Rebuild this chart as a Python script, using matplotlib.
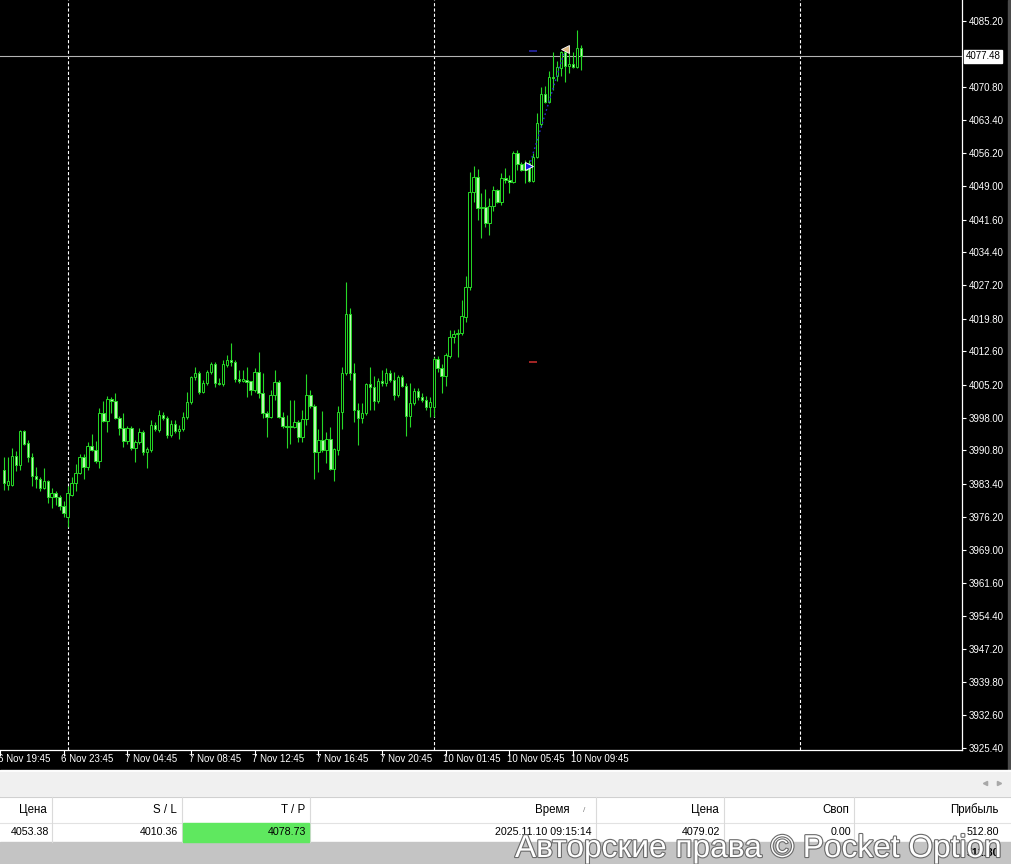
import matplotlib
matplotlib.use('Agg')
import matplotlib.pyplot as plt
from matplotlib.patches import Rectangle
from matplotlib.transforms import blended_transform_factory
import matplotlib.patheffects as pe
import numpy as np

plt.rcParams['font.family'] = ['Liberation Sans', 'DejaVu Sans']
plt.rcParams['lines.scale_dashes'] = False

# ---------------- data (XAUUSD M15) ----------------
first_index = -1  # index of first (partially visible) candle
opens = [
    3986.5, 3983.2, 3983.2, 3989.6, 3987.6, 3995.1, 3992.4, 3989.4, 3985.2, 3984.5,
    3982.5, 3984.1, 3980.6, 3981.4, 3980.6, 3978.6, 3976.2, 3981.0, 3983.6, 3985.8,
    3989.4, 3987.2, 3991.8, 3990.9, 3988.5, 3999.0, 3997.3, 4002.1, 4001.7, 3997.9,
    3995.7, 3992.9, 3995.7, 3991.3, 3992.7, 3994.9, 3990.5, 3990.9, 3996.4, 3995.3,
    3998.6, 3997.9, 3994.2, 3996.6, 3995.1, 3995.5, 3998.2, 4001.5, 4007.0, 4007.8,
    4003.7, 4005.6, 4008.1, 4009.8, 4005.6, 4005.4, 4009.6, 4010.7, 4010.3, 4006.5,
    4006.1, 4006.3, 4006.1, 4004.1, 4008.1, 4003.4, 3999.0, 3998.2, 4003.0, 4005.9,
    3998.2, 3996.2, 3996.0, 3996.0, 3997.1, 3993.8, 3997.7, 4003.0, 4000.6, 3990.5,
    3993.1, 3990.9, 3993.3, 3986.7, 3990.9, 3999.3, 4007.8, 4020.8, 4007.8, 3999.7,
    3997.9, 3999.0, 4005.4, 4004.8, 4001.7, 4006.1, 4005.6, 4007.8, 4006.3, 4003.0,
    4007.0, 4005.0, 3998.4, 4001.2, 4003.9, 4002.6, 4001.9, 4000.4, 4000.4, 4010.9,
    4008.9, 4007.2, 4011.6, 4015.8, 4016.4, 4016.6, 4020.2, 4026.8, 4047.7, 4051.0,
    4044.1, 4044.4, 4040.8, 4044.6, 4048.1, 4045.5, 4050.7, 4050.3, 4049.9, 4056.2,
    4053.8, 4052.5, 4054.0, 4050.1, 4055.4, 4062.6, 4069.2, 4067.5, 4073.0, 4073.2,
    4074.9, 4078.5, 4075.4, 4075.8, 4075.2, 4079.3,
]
highs = [
    3989.4, 3989.4, 3991.3, 3990.7, 3995.3, 3995.3, 3993.1, 3990.2, 3987.2, 3985.0,
    3986.9, 3984.3, 3982.5, 3981.9, 3981.0, 3979.7, 3983.0, 3985.0, 3987.8, 3990.0,
    3990.0, 3992.7, 3994.4, 3992.9, 4000.1, 4001.7, 4002.8, 4002.6, 4003.4, 3998.4,
    3999.0, 3996.2, 3996.2, 3993.1, 3995.7, 3995.3, 3991.6, 3997.5, 3997.1, 3999.7,
    3999.3, 3998.4, 3997.5, 3997.5, 3996.4, 3999.3, 4003.7, 4007.2, 4009.2, 4008.3,
    4006.3, 4008.5, 4010.3, 4010.3, 4006.7, 4010.7, 4011.8, 4014.4, 4010.7, 4008.5,
    4008.5, 4009.2, 4006.1, 4008.9, 4012.5, 4007.8, 3999.5, 4004.1, 4008.5, 4006.3,
    3999.3, 3998.6, 4001.9, 4001.9, 3997.5, 3999.7, 4007.6, 4004.1, 4001.0, 3995.5,
    3999.5, 3994.9, 3995.9, 3991.3, 4000.6, 4009.2, 4027.9, 4022.1, 4010.0, 4001.2,
    4001.2, 4005.6, 4009.2, 4007.2, 4006.7, 4008.5, 4008.9, 4008.5, 4008.1, 4007.4,
    4007.4, 4005.6, 4005.6, 4004.5, 4004.5, 4003.4, 4002.8, 4002.6, 4011.4, 4011.6,
    4009.8, 4012.2, 4017.3, 4017.3, 4017.5, 4023.9, 4029.2, 4052.1, 4053.4, 4052.7,
    4047.4, 4048.3, 4046.3, 4049.0, 4048.3, 4051.8, 4052.9, 4051.4, 4056.7, 4056.9,
    4054.3, 4054.7, 4054.7, 4056.2, 4065.0, 4070.8, 4071.0, 4074.3, 4078.5, 4076.5,
    4078.7, 4079.3, 4078.5, 4078.5, 4083.3, 4080.0,
]
lows = [
    3982.1, 3982.1, 3983.0, 3986.3, 3986.5, 3992.0, 3988.3, 3983.0, 3982.5, 3981.9,
    3982.4, 3979.2, 3978.1, 3978.8, 3977.7, 3976.2, 3973.9, 3980.8, 3981.9, 3985.6,
    3984.5, 3986.5, 3990.7, 3988.0, 3986.9, 3997.1, 3994.9, 3999.0, 3997.7, 3994.2,
    3991.6, 3992.2, 3990.9, 3988.3, 3992.2, 3989.8, 3986.9, 3990.5, 3995.1, 3994.9,
    3997.5, 3993.5, 3993.8, 3994.6, 3993.3, 3995.1, 3997.7, 4001.0, 4006.3, 4003.2,
    4003.4, 4005.2, 4007.6, 4004.8, 4005.2, 4005.0, 4009.2, 4009.4, 4005.9, 4005.6,
    4005.9, 4002.6, 4003.0, 4003.7, 4002.3, 3997.9, 3993.8, 3997.9, 4001.9, 3997.9,
    3995.7, 3991.3, 3992.2, 3995.7, 3992.7, 3992.7, 3996.4, 4000.1, 3984.5, 3986.0,
    3990.5, 3988.0, 3986.5, 3984.1, 3989.8, 3995.5, 4007.4, 4006.3, 3997.1, 3992.0,
    3996.8, 3998.6, 3999.7, 3999.7, 4001.2, 4005.0, 4005.0, 4005.9, 4001.9, 4002.6,
    4004.8, 3994.0, 3995.9, 4000.8, 4001.9, 4001.5, 3999.7, 3998.2, 3998.2, 4008.1,
    4003.4, 4005.0, 4011.1, 4014.4, 4011.4, 4016.2, 4019.1, 4026.1, 4045.5, 4041.5,
    4037.5, 4040.0, 4038.2, 4043.5, 4045.2, 4044.8, 4049.6, 4047.4, 4049.6, 4052.5,
    4052.3, 4049.6, 4049.9, 4049.9, 4055.1, 4062.0, 4067.2, 4067.2, 4070.1, 4072.1,
    4073.2, 4071.9, 4073.8, 4074.9, 4074.9, 4074.5,
]
closes = [
    3983.6, 3984.1, 3989.6, 3987.6, 3995.1, 3992.2, 3989.4, 3985.2, 3984.5, 3982.5,
    3984.1, 3980.6, 3981.4, 3980.6, 3978.6, 3977.0, 3981.4, 3983.6, 3985.8, 3989.4,
    3987.2, 3991.8, 3990.9, 3988.5, 3999.0, 3997.3, 4002.1, 4001.7, 3997.9, 3995.7,
    3992.9, 3995.7, 3991.3, 3992.7, 3994.9, 3990.5, 3991.1, 3996.4, 3995.5, 3998.6,
    3997.9, 3994.2, 3996.6, 3995.1, 3995.5, 3998.2, 4001.5, 4007.0, 4007.8, 4003.7,
    4005.6, 4008.1, 4009.8, 4005.6, 4005.4, 4009.8, 4010.7, 4010.3, 4006.5, 4006.1,
    4006.5, 4005.9, 4004.1, 4008.1, 4003.4, 3999.0, 3998.2, 4003.0, 4005.9, 3998.2,
    3996.2, 3996.0, 3996.2, 3997.1, 3993.8, 3997.7, 4003.0, 4000.6, 3990.5, 3993.1,
    3990.9, 3993.3, 3986.7, 3991.1, 3999.3, 4007.8, 4020.8, 4007.8, 3999.7, 3997.9,
    3999.0, 4005.4, 4004.8, 4001.7, 4006.1, 4005.6, 4007.8, 4006.3, 4003.0, 4007.0,
    4005.0, 3998.4, 4001.2, 4003.9, 4002.6, 4001.9, 4000.4, 4001.5, 4010.9, 4008.9,
    4007.2, 4011.8, 4015.8, 4016.4, 4016.6, 4020.4, 4026.8, 4047.7, 4051.0, 4044.1,
    4044.4, 4040.8, 4044.6, 4048.1, 4045.5, 4050.7, 4050.3, 4049.9, 4056.2, 4053.8,
    4052.5, 4054.0, 4050.1, 4055.4, 4062.8, 4069.2, 4067.5, 4073.0, 4072.7, 4075.2,
    4078.5, 4075.4, 4075.8, 4075.2, 4079.3, 4077.48,
]

current_price = 4077.48
price_ticks = [4085.20, 4070.80, 4063.40, 4056.20, 4049.00, 4041.60, 4034.40,
               4027.20, 4019.80, 4012.60, 4005.20, 3998.00, 3990.80, 3983.40,
               3976.20, 3969.00, 3961.60, 3954.40, 3947.20, 3939.80, 3932.60, 3925.40]
time_label_idx = [-2, 14, 30, 46, 62, 78, 94, 110, 126, 142]
time_labels = ["6 Nov 19:45", "6 Nov 23:45", "7 Nov 04:45", "7 Nov 08:45",
               "7 Nov 12:45", "7 Nov 16:45", "7 Nov 20:45", "10 Nov 01:45",
               "10 Nov 05:45", "10 Nov 09:45"]
day_sep_idx = [15, 107, 199]

# trade
entry_idx, close_idx = 131, 140
entry_price, sl_price, tp_price, close_price = 4053.38, 4010.36, 4078.73, 4079.02

# terminal table
headers = ["Цена", "S / L", "T / P", "Время", "Цена", "Своп", "Прибыль"]
row_values = ["4053.38", "4010.36", "4078.73", "2025.11.10 09:15:14",
              "4079.02", "0.00", "512.80"]
total_profit = "512.80"
watermark = "Авторские права © Pocket Option"

# ---------------- layout ----------------
W, H = 1012, 864
fig = plt.figure(figsize=(W / 100, H / 100), dpi=100, facecolor='black')

ov = fig.add_axes([0, 0, 1, 1], zorder=0)
ov.set_xlim(0, W)
ov.set_ylim(H, 0)
ov.axis('off')

chart_bottom = 750
ax = fig.add_axes([0, (H - chart_bottom) / H, 962 / W, chart_bottom / H], zorder=2)
ax.set_facecolor('black')
ax.set_xlim(-0.75, 239.75)
ax.set_ylim(3924.89, 4089.89)

GREEN = '#26d926'
BEAR_FILL = '#b8f8b0'

o = np.array(opens)
c = np.array(closes)
h = np.maximum(np.array(highs), np.maximum(o, c))
l = np.minimum(np.array(lows), np.minimum(o, c))
x = np.arange(first_index, first_index + len(c))

# period separators
for d in day_sep_idx:
    ax.axvline(d, color='white', lw=0.8, ls=(0, (2.3, 1.5)), zorder=1)

# bid line
ax.axhline(current_price, color='#b4b4b4', lw=0.8, zorder=2)

# candles
ax.vlines(x, l, h, color=GREEN, lw=0.8, zorder=3)
bull = c >= o
body_bottom = np.minimum(o, c)
body_h = np.maximum(np.abs(c - o), 0.06)
ax.bar(x, body_h, bottom=body_bottom, width=0.62,
       color=np.where(bull, 'black', BEAR_FILL), edgecolor=GREEN,
       linewidth=0.7, zorder=4)

# trade objects
ax.hlines([tp_price], entry_idx, entry_idx + 2, color='#2a2ab8', lw=1.1, zorder=5)
ax.hlines([sl_price], entry_idx, entry_idx + 2, color='#d03030', lw=1.1, zorder=5)
ax.plot([entry_idx, close_idx], [entry_price, close_price], color='#2a2ad0',
        ls=(0, (1.2, 2.0)), lw=1.0, zorder=5)
ax.plot(entry_idx, entry_price, marker='>', ms=6, mfc='#1a1ae0', mec='white',
        mew=0.7, zorder=6)
ax.plot(close_idx, close_price, marker='<', ms=6, mfc='#dcb880', mec='white',
        mew=0.6, zorder=6)

# spines & ticks
for s in ['top', 'left']:
    ax.spines[s].set_visible(False)
for s in ['right', 'bottom']:
    ax.spines[s].set_color('white')
    ax.spines[s].set_linewidth(0.9)

ax.yaxis.tick_right()
ax.set_yticks(price_ticks)
ax.set_yticklabels([f'{v:.2f}' for v in price_ticks])
ax.tick_params(axis='y', colors='white', labelsize=7, length=3, width=0.8,
               pad=2, direction='out')
ax.set_xticks(time_label_idx)
ax.set_xticklabels([])
ax.tick_params(axis='x', colors='white', length=4, width=0.8, direction='out')

tx = blended_transform_factory(ax.transData, ax.transAxes)
for idx, lbl in zip(time_label_idx, time_labels):
    ax.text(idx - 0.6, -9.5 / chart_bottom, lbl, transform=tx, ha='left',
            va='center', color='white', fontsize=7, clip_on=False)

ty = blended_transform_factory(ax.transAxes, ax.transData)
ax.text(1 + 3.5 / 962, current_price, f'{current_price:.2f}', transform=ty,
        ha='left', va='center', fontsize=7, color='black', clip_on=False,
        bbox=dict(boxstyle='square,pad=0.18', fc='white', ec='white'))

# ---------------- terminal panel ----------------
ov.add_patch(Rectangle((1008, 0), 4, 770, color='#4a4a4a', zorder=1))
ov.add_patch(Rectangle((0, 770), W, 27, color='#f0f0f0', zorder=1))
ov.plot([0, W], [770.5, 770.5], color='white', lw=1.2, zorder=2)
ov.plot(985, 783, marker='<', ms=3, color='#a8a8a8', zorder=2)
ov.plot(999, 783, marker='>', ms=3, color='#a8a8a8', zorder=2)
ov.add_patch(Rectangle((0, 797), W, 45, color='white', zorder=1))
ov.plot([0, W], [797, 797], color='#d0d0d0', lw=0.8, zorder=2)
ov.plot([0, W], [822.5, 822.5], color='#e2e2e2', lw=0.8, zorder=2)
for sx in [52, 182, 310, 596, 724, 854]:
    ov.plot([sx, sx], [797, 842], color='#dadada', lw=0.8, zorder=2)
ov.add_patch(Rectangle((183, 823), 126, 19, color='#5fe85f', zorder=2))
ov.add_patch(Rectangle((0, 842), W, 22, color='#c4c4c4', zorder=1))

header_right = [47, 177, 305, 570, 719, 849, 999]
value_right = [49, 178, 306, 592, 720, 851, 999]
for xr, t in zip(header_right, headers):
    ov.text(xr, 810, t, ha='right', va='center', fontsize=8.3, color='black', zorder=3)
ov.text(584, 810, '/', ha='center', va='center', fontsize=6, color='#808080', zorder=3)
for xr, t in zip(value_right, row_values):
    ov.text(xr, 832, t, ha='right', va='center', fontsize=7.7, color='black', zorder=3)
ov.text(999, 853, total_profit, ha='right', va='center', fontsize=7.7,
        fontweight='bold', color='black', zorder=3)

ov.text(515, 857, watermark, ha='left', va='baseline', fontsize=22.8,
        color='white', zorder=10,
        path_effects=[pe.withStroke(linewidth=1.6, foreground='#6a6a6a')])

fig.savefig('out.png', dpi=100, facecolor='black')
